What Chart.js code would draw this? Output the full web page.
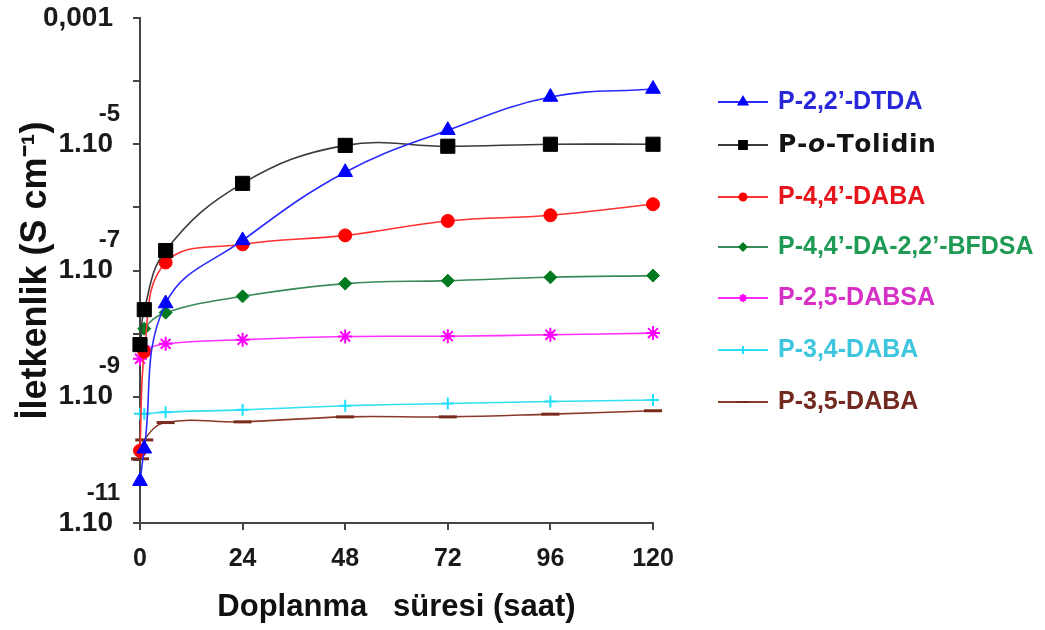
<!DOCTYPE html>
<html>
<head>
<meta charset="utf-8">
<script src="https://cdn.jsdelivr.net/npm/chart.js@4/dist/chart.umd.min.js"></script>
<style>
  html, body { margin: 0; padding: 0; background: #ffffff; }
  #wrap { width: 1045px; height: 630px; }
</style>
</head>
<body>
<div id="wrap"><canvas id="chart" width="1045" height="630"></canvas></div>
<script>
// Doping time (hours)
const hours = [0, 1, 6, 24, 48, 72, 96, 120];

// Polymer names
const seriesNames = [
  'P-2,2’-DTDA',
  'P-o-Tolidin',
  'P-4,4’-DABA',
  'P-4,4’-DA-2,2’-BFDSA',
  'P-2,5-DABSA',
  'P-3,4-DABA',
  'P-3,5-DABA'
];

// Conductivity (S cm-1) for each polymer at the doping times above
const dtda     = [4.6e-11, 1.5e-10, 3.0e-8, 3.0e-7, 3.6e-6, 1.67e-5, 5.6e-5, 7.5e-5];
const oTolidin = [6.7e-9, 2.4e-8, 2.07e-7, 2.4e-6, 9.6e-6, 9.3e-6, 1.0e-5, 1.0e-5];
const daba44   = [1.4e-10, 5.2e-9, 1.34e-7, 2.6e-7, 3.6e-7, 6.1e-7, 7.5e-7, 1.12e-6];
const bfdsa    = [6.5e-9, 1.2e-8, 2.15e-8, 3.9e-8, 6.2e-8, 6.9e-8, 7.8e-8, 8.3e-8];
const dabsa    = [4.0e-9, 5.4e-9, 6.9e-9, 8.0e-9, 9.0e-9, 9.1e-9, 9.6e-9, 1.02e-8];
const daba34   = [5.4e-10, 5.4e-10, 5.7e-10, 6.2e-10, 7.2e-10, 7.8e-10, 8.4e-10, 8.9e-10];
const daba35   = [1.04e-10, 2.07e-10, 3.9e-10, 4.0e-10, 4.8e-10, 4.8e-10, 5.3e-10, 6.0e-10];

const seriesValues = [dtda, oTolidin, daba44, bfdsa, dabsa, daba34, daba35];

// Y axis: one tick per decade, labels on every second decade
const decadeTicks = [1e-11, 1e-10, 1e-9, 1e-8, 1e-7, 1e-6, 1e-5, 1e-4, 1e-3];
const labeledTicks = [1e-3, 1e-5, 1e-7, 1e-9, 1e-11];
const tickMantissa = ['0,001', '1.10', '1.10', '1.10', '1.10'];
const tickExponent = ['', '-5', '-7', '-9', '-11'];

// X axis tick step
const hourStep = 24;

// ---- styling ----
const FONT = "'Liberation Sans', Arial, sans-serif";
const lineColors   = ['#2a2aff', '#3a3a3a', '#ff3030', '#3a8a5a', '#ff30ff', '#30e0f0', '#8b3a2a'];
const markerColors = ['#0000ff', '#000000', '#ff0000', '#007a20', '#ff00ff', '#20e0ff', '#7a2a1a'];
const textColors   = ['#2828d8', '#141414', '#e8141c', '#1f9a55', '#d630c6', '#3ec6de', '#722a20'];
const pointStyles  = ['triangle', 'rect', 'circle', 'rectRot', 'star', 'cross', 'line'];
const pointSizes   = [8.5, 10, 6.5, 6.5, 7, 6, 9];
const pointBorders = [1, 1, 1, 1, 2, 2, 3];
const legendSizes  = [5, 5.5, 3.5, 3.5, 4, 4, 6];

function tickIndex(v) {
  for (let i = 0; i < labeledTicks.length; i++) {
    if (Math.abs(Math.log10(v) - Math.log10(labeledTicks[i])) < 1e-6) return i;
  }
  return -1;
}

// exponents above the "1.10" labels and the legend at the right
const annotations = {
  id: 'annotations',
  afterDraw(chart) {
    const ctx = chart.ctx;
    const ys = chart.scales.y;
    ctx.save();
    ctx.fillStyle = '#1a1a1a';
    ctx.font = 'bold 24px ' + FONT;
    ctx.textAlign = 'right';
    ctx.textBaseline = 'middle';
    labeledTicks.forEach((v, i) => {
      if (!tickExponent[i]) return;
      const y = ys.getPixelForValue(v);
      ctx.fillText(tickExponent[i], ys.right - 20, y - 30);
    });

    // legend
    const rows = [102, 145, 197, 247, 298, 350, 402];
    const x0 = 718, x1 = 768, tx = 778;
    chart.data.datasets.forEach((ds, i) => {
      const y = rows[i];
      ctx.strokeStyle = lineColors[i];
      ctx.lineWidth = 2;
      ctx.beginPath();
      ctx.moveTo(x0, y);
      ctx.lineTo(x1, y);
      ctx.stroke();
      ctx.fillStyle = markerColors[i];
      ctx.strokeStyle = markerColors[i];
      Chart.helpers.drawPoint(ctx, {
        pointStyle: pointStyles[i], radius: legendSizes[i], rotation: 0,
        borderWidth: pointBorders[i] > 1 ? 2 : 1
      }, (x0 + x1) / 2, y);

      ctx.fillStyle = textColors[i];
      ctx.textAlign = 'left';
      ctx.textBaseline = 'middle';
      const name = ds.label;
      const m = name.match(/^(P-)(o)(-.*)$/);
      if (m) {
        let x = tx;
        const sp = 0.6;
        const parts = [[m[1], 'bold'], [m[2], 'italic bold'], [m[3], 'bold']];
        parts.forEach(([t, w]) => {
          ctx.font = w + ' 25px "DejaVu Sans", sans-serif';
          for (const ch of t) {
            ctx.fillText(ch, x, y);
            x += ctx.measureText(ch).width + sp;
          }
        });
      } else {
        ctx.font = 'bold 25px ' + FONT;
        ctx.fillText(name, tx, y);
      }
    });
    ctx.restore();
  }
};

const datasets = seriesNames.map((name, i) => ({
  label: name,
  data: hours.map((h, j) => ({ x: h, y: seriesValues[i][j] })),
  borderColor: lineColors[i],
  backgroundColor: markerColors[i],
  pointBackgroundColor: markerColors[i],
  pointBorderColor: markerColors[i],
  pointStyle: pointStyles[i],
  pointRadius: pointSizes[i],
  pointBorderWidth: pointBorders[i],
  borderWidth: 1.6,
  tension: 0.4,
  clip: false
}));

new Chart(document.getElementById('chart'), {
  type: 'line',
  data: { datasets },
  options: {
    responsive: false,
    animation: false,
    layout: { padding: { top: 18, right: 392, bottom: 0, left: 0 } },
    plugins: { legend: { display: false }, tooltip: { enabled: false } },
    scales: {
      x: {
        type: 'linear',
        min: 0,
        max: 120,
        afterFit(s) { s.height = 107; },
        ticks: { stepSize: hourStep, color: '#1a1a1a', padding: 14,
                 font: { family: FONT, size: 25, weight: 'bold' } },
        grid: { drawOnChartArea: false, drawTicks: true, tickLength: 7, color: '#444', lineWidth: 2 },
        border: { display: true, color: '#444', width: 2 },
        title: { display: true, text: 'Doplanma   süresi (saat)', color: '#111',
                 font: { family: FONT, size: 31, weight: 'bold' }, padding: { top: 0, bottom: 4 } }
      },
      y: {
        type: 'logarithmic',
        min: 1e-11,
        max: 1e-3,
        afterFit(s) { s.width = 140; s.paddingTop = 0; s.paddingBottom = 0; },
        afterBuildTicks(s) { s.ticks = decadeTicks.map(v => ({ value: v })); },
        ticks: {
          autoSkip: false, color: '#1a1a1a', padding: 20,
          font: { family: FONT, size: 28, weight: 'bold' },
          callback(v) { const k = tickIndex(v); return k >= 0 ? tickMantissa[k] : ''; }
        },
        grid: { drawOnChartArea: false, drawTicks: true, tickLength: 7, color: '#444', lineWidth: 2 },
        border: { display: true, color: '#444', width: 2 },
        title: { display: true, text: 'İletkenlik (S cm⁻¹)', color: '#111',
                 font: { family: FONT, size: 36, weight: 'bold' }, padding: { top: 14, bottom: 0 } }
      }
    }
  },
  plugins: [annotations]
});
</script>
</body>
</html>
